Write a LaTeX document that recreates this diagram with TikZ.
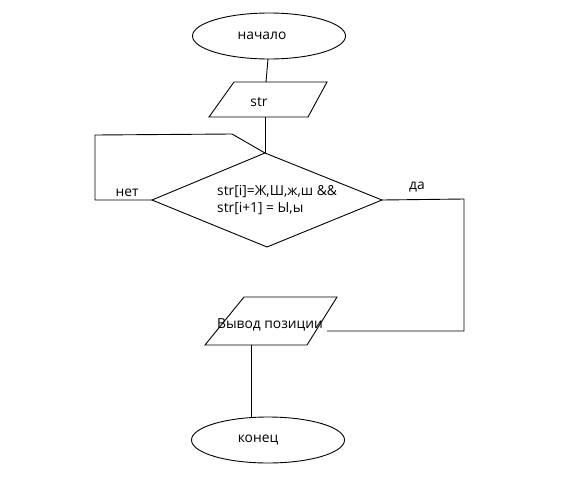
\documentclass[tikz,border=0pt]{standalone}
\usepackage{fontspec}
\setmainfont{Open Sans}
\usetikzlibrary{shapes.geometric}
\tikzset{
  ln/.style={line width=0.9pt, black},
  term/.style={ellipse, draw, line width=0.9pt, inner sep=0pt},
  txt/.style={inner sep=0pt, font=\fontsize{13.8}{16.5}\selectfont, anchor=center},
}
\begin{document}
\begin{tikzpicture}[x=1pt,y=-1pt]
\useasboundingbox[fill=white] (0,0) rectangle (583,501);
% start
\node[term, minimum width=153pt, minimum height=46pt] (start) at (269,36) {};
\node[txt] (tstart) at (262,36) {начало};
% input parallelogram
\coordinate (p1a) at (234,82);
\coordinate (p1b) at (327,82);
\coordinate (p1c) at (308,117);
\coordinate (p1d) at (209,117);
\draw[ln] (p1a) -- (p1b) -- (p1c) -- (p1d) -- cycle;
\coordinate (p1top) at (266,82);
\coordinate (p1bot) at (265,117);
\node[txt] (tstr) at (259,102) {str};
% diamond
\coordinate (dt) at (265,153);
\coordinate (dl) at (152,200);
\coordinate (dr) at (382,200);
\coordinate (db) at (267,247);
\draw[ln] (dt) -- (dr) -- (db) -- (dl) -- cycle;
\node[txt, anchor=west, align=left] (tcond) at (217,200) {str[i]=Ж,Ш,ж,ш \&\&\\str[i+1] = Ы,ы};
% output parallelogram
\coordinate (p2a) at (244,297);
\coordinate (p2b) at (337,297);
\coordinate (p2c) at (307,345);
\coordinate (p2d) at (205,345);
\draw[ln] (p2a) -- (p2b) -- (p2c) -- (p2d) -- cycle;
\coordinate (p2bot) at (251,345);
\coordinate (p2in) at (327,331);
\node[txt] (tout) at (270,325) {Вывод позиции};
% end
\node[term, minimum width=153pt, minimum height=46pt] (stop) at (268,440) {};
\node[txt] (tstop) at (258,440) {конец};
% connectors
\coordinate (s1) at (268,59);
\draw[ln] (s1) -- (p1top);
\draw[ln] (p1bot) -- (dt);
\coordinate (n1) at (95,200);
\coordinate (n2) at (95,135);
\coordinate (n3) at (232,134);
\draw[ln] (dl) -- (n1) -- (n2) -- (n3) -- (dt);
\node[txt] (tno) at (127,193) {нет};
\coordinate (y1) at (464,199);
\coordinate (y2) at (464,331);
\draw[ln] (dr) -- (y1) -- (y2) -- (p2in);
\node[txt] (tyes) at (417,187) {да};
\coordinate (e1) at (251,417);
\draw[ln] (p2bot) -- (e1);
\end{tikzpicture}
\end{document}
